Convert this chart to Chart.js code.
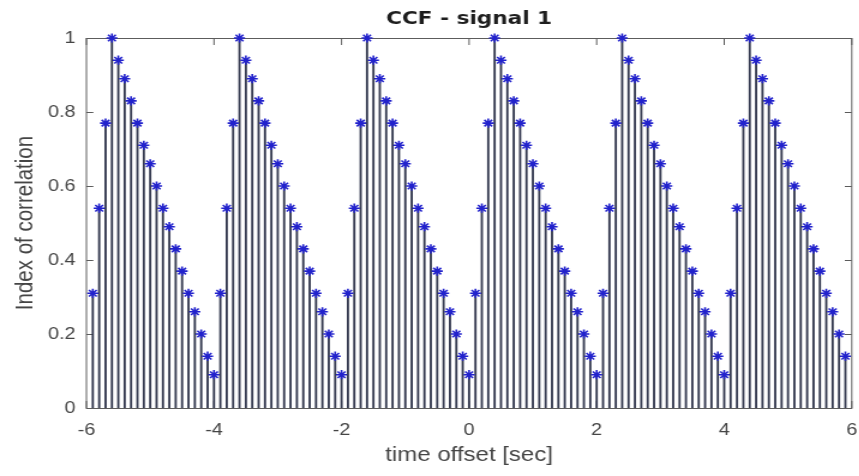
<!DOCTYPE html>
<html>
<head>
<meta charset="utf-8">
<script src="https://cdn.jsdelivr.net/npm/chart.js@4/dist/chart.umd.min.js"></script>
<style>
html,body{margin:0;padding:0;background:#fff;overflow:hidden;}
#wrap{width:716px;height:476px;transform:scaleX(1.2);transform-origin:0 0;}
</style>
</head>
<body>
<div id="wrap"><canvas id="c"></canvas></div>
<script>
// ---- data ----
const timeOffsets = [
  -5.9,-5.8,-5.7,-5.6,-5.5,-5.4,-5.3,-5.2,-5.1,-5.0,-4.9,-4.8,-4.7,-4.6,-4.5,-4.4,-4.3,-4.2,-4.1,-4.0,
  -3.9,-3.8,-3.7,-3.6,-3.5,-3.4,-3.3,-3.2,-3.1,-3.0,-2.9,-2.8,-2.7,-2.6,-2.5,-2.4,-2.3,-2.2,-2.1,-2.0,
  -1.9,-1.8,-1.7,-1.6,-1.5,-1.4,-1.3,-1.2,-1.1,-1.0,-0.9,-0.8,-0.7,-0.6,-0.5,-0.4,-0.3,-0.2,-0.1,0.0,
  0.1,0.2,0.3,0.4,0.5,0.6,0.7,0.8,0.9,1.0,1.1,1.2,1.3,1.4,1.5,1.6,1.7,1.8,1.9,2.0,
  2.1,2.2,2.3,2.4,2.5,2.6,2.7,2.8,2.9,3.0,3.1,3.2,3.3,3.4,3.5,3.6,3.7,3.8,3.9,4.0,
  4.1,4.2,4.3,4.4,4.5,4.6,4.7,4.8,4.9,5.0,5.1,5.2,5.3,5.4,5.5,5.6,5.7,5.8,5.9
];
const correlation = [
  0.31,0.54,0.77,1.00,0.94,0.89,0.83,0.77,0.71,0.66,0.60,0.54,0.49,0.43,0.37,0.31,0.26,0.20,0.14,0.09,
  0.31,0.54,0.77,1.00,0.94,0.89,0.83,0.77,0.71,0.66,0.60,0.54,0.49,0.43,0.37,0.31,0.26,0.20,0.14,0.09,
  0.31,0.54,0.77,1.00,0.94,0.89,0.83,0.77,0.71,0.66,0.60,0.54,0.49,0.43,0.37,0.31,0.26,0.20,0.14,0.09,
  0.31,0.54,0.77,1.00,0.94,0.89,0.83,0.77,0.71,0.66,0.60,0.54,0.49,0.43,0.37,0.31,0.26,0.20,0.14,0.09,
  0.31,0.54,0.77,1.00,0.94,0.89,0.83,0.77,0.71,0.66,0.60,0.54,0.49,0.43,0.37,0.31,0.26,0.20,0.14,0.09,
  0.31,0.54,0.77,1.00,0.94,0.89,0.83,0.77,0.71,0.66,0.60,0.54,0.49,0.43,0.37,0.31,0.26,0.20,0.14
];
const xTickValues = [-6,-4,-2,0,2,4,6];
const yTickValues = [0,0.2,0.4,0.6,0.8,1];
const yTickLabels = ['0','0.2','0.4','0.6','0.8','1'];
const chartTitle = 'CCF - signal 1';
const xAxisLabel = 'time offset [sec]';
const yAxisLabel = 'Index of correlation';

const points = timeOffsets.map((t,i)=>({x:t, y:correlation[i]}));

const framePlugin = {
  id:'frame',
  beforeDatasetsDraw(chart){
    const {ctx, chartArea:a, scales:{x,y}} = chart;
    ctx.save();
    ctx.strokeStyle = '#5c5c5c';
    ctx.lineWidth = 1;
    ctx.strokeRect(a.left, a.top + 0.5, a.right - a.left, a.bottom - a.top);
    ctx.beginPath();
    xTickValues.forEach(v=>{
      const px = x.getPixelForValue(v);
      ctx.moveTo(px, a.bottom); ctx.lineTo(px, a.bottom - 7);
      ctx.moveTo(px, a.top); ctx.lineTo(px, a.top + 7);
    });
    yTickValues.forEach(v=>{
      const py = Math.round(y.getPixelForValue(v)) + 0.5;
      ctx.moveTo(a.left, py); ctx.lineTo(a.left + 5.8, py);
      ctx.moveTo(a.right, py); ctx.lineTo(a.right - 5.8, py);
    });
    ctx.stroke();
    ctx.restore();
  }
};

new Chart(document.getElementById('c'), {
  type:'scatter',
  data:{
    datasets:[
      {
        type:'scatter',
        data:points,
        pointStyle:'star',
        pointRadius:4.6,
        borderColor:'#2222cc',
        backgroundColor:'#2222cc',
        pointBorderWidth:1.6,
        showLine:false,
        clip:false,
        order:0
      },
      {
        type:'bar',
        data:points,
        backgroundColor:'#353a50',
        borderWidth:0,
        barThickness:1.2,
        order:1
      }
    ]
  },
  options:{
    responsive:true,
    maintainAspectRatio:false,
    animation:false,
    layout:{padding:{left:0,right:6,top:0,bottom:0}},
    plugins:{
      legend:{display:false},
      tooltip:{enabled:false},
      title:{
        display:true,
        text:chartTitle,
        fullSize:false,
        color:'#1e1e1e',
        font:{family:'DejaVu Sans', size:18, weight:'bold'},
        padding:{top:8.5, bottom:7.9}
      }
    },
    scales:{
      x:{
        type:'linear',
        min:-6, max:6,
        offset:false,
        grid:{display:false, drawTicks:false},
        border:{display:false},
        afterBuildTicks:s=>{ s.ticks = xTickValues.map(v=>({value:v})); },
        afterFit:s=>{ s.height = 68; s.paddingLeft = 0; s.paddingRight = 0; },
        ticks:{
          color:'#454545',
          font:{family:'Liberation Sans', size:16.5},
          padding:13,
          maxRotation:0,
          autoSkip:false
        },
        title:{
          display:true,
          text:xAxisLabel,
          color:'#454545',
          font:{family:'Liberation Sans', size:20},
          padding:{top:0,bottom:9}
        }
      },
      y:{
        type:'linear',
        min:0, max:1,
        grid:{display:false, drawTicks:false},
        border:{display:false},
        afterBuildTicks:s=>{ s.ticks = yTickValues.map(v=>({value:v})); },
        afterFit:s=>{ s.width = 72; s.paddingTop = 0; s.paddingBottom = 0; },
        ticks:{
          color:'#454545',
          font:{family:'Liberation Sans', size:16.5},
          padding:9,
          callback:(v,i)=>yTickLabels[i]
        },
        title:{
          display:true,
          text:yAxisLabel,
          color:'#454545',
          font:{family:'Liberation Sans', size:20.5},
          padding:{top:9.5,bottom:0}
        }
      }
    }
  },
  plugins:[framePlugin]
});
</script>
</body>
</html>
